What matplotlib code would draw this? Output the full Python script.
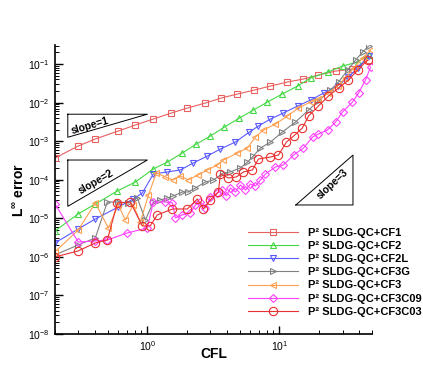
import numpy as np
import matplotlib
matplotlib.use("Agg")
import matplotlib.pyplot as plt
from matplotlib.ticker import LogLocator, NullFormatter

plt.rcParams['font.family'] = ['Liberation Sans', 'DejaVu Sans']
plt.rcParams['mathtext.fontset'] = 'custom'
plt.rcParams['mathtext.rm'] = 'Liberation Sans'
plt.rcParams['mathtext.bf'] = 'Liberation Sans:bold'
plt.rcParams['mathtext.it'] = 'Liberation Sans:italic'

# --- data ---
cfl_cf1 = [0.2, 0.3, 0.404, 0.603, 0.811, 1.11, 1.52, 2.01, 2.75, 3.64, 4.81, 6.47, 8.55,
           11.5, 15.2, 19.7, 26.6, 35.7, 47.2]
err_cf1 = [3.65e-4, 7.48e-4, 1.14e-3, 1.83e-3, 2.62e-3, 3.75e-3, 5.37e-3, 7.23e-3, 9.75e-3,
           1.32e-2, 1.67e-2, 2.12e-2, 2.69e-2, 3.42e-2, 4.09e-2, 5.19e-2, 6.58e-2, 7.42e-2, 0.127]

cfl_cf2 = [0.2, 0.3, 0.404, 0.593, 0.811, 1.11, 1.42, 1.84, 2.35, 3.0, 3.83, 4.98, 6.35, 8.11,
           10.5, 13.7, 17.2, 23.1, 30.0, 39.0, 47.2]
err_cf2 = [4.68e-6, 1.30e-5, 2.35e-5, 5.10e-5, 8.72e-5, 1.90e-4, 2.87e-4, 4.93e-4, 8.43e-4,
           1.36e-3, 2.32e-3, 3.98e-3, 6.41e-3, 1.035e-2, 1.67e-2, 2.69e-2, 4.34e-2, 6.2e-2,
           8.87e-2, 0.113, 0.171]

cfl_cf2l = [0.2, 0.3, 0.404, 0.603, 0.783, 0.917, 1.11, 1.42, 1.78, 2.23, 2.85, 3.57, 4.64,
            5.92, 6.93, 8.55, 10.7, 13.7, 17.2, 21.6, 27.5, 33.3, 39.0, 47.2]
err_cf2l = [2.29e-6, 5.28e-6, 9.58e-6, 1.96e-5, 3.16e-5, 4.53e-5, 1.41e-4, 1.59e-4, 1.79e-4,
            2.72e-4, 4.12e-4, 6.25e-4, 9.49e-4, 1.72e-3, 2.47e-3, 3.75e-3, 5.37e-3, 8.15e-3,
            1.167e-2, 1.77e-2, 2.69e-2, 4.6e-2, 7.88e-2, 0.161]

cfl_cf3g = [0.2, 0.3, 0.404, 0.498, 0.603, 0.718, 0.84, 0.966, 1.11, 1.25, 1.42, 1.57, 1.84,
            2.04, 2.31, 2.75, 3.16, 3.77, 4.25, 5.07, 5.72, 6.35, 7.18, 8.55, 10.5, 13.2,
            16.6, 19.7, 24.3, 28.0, 32.8, 37.7, 42.6, 47.2]
err_cf3g = [1.12e-6, 2.03e-6, 3.08e-6, 2.64e-5, 2.64e-5, 2.49e-5, 3.36e-5, 9.02e-6, 2.64e-5,
            2.98e-5, 3.36e-5, 3.79e-5, 4.80e-5, 4.80e-5, 6.1e-5, 8.72e-5, 9.83e-5, 1.5e-4,
            1.59e-4, 2.02e-4, 2.87e-4, 4.12e-4, 6.64e-4, 9.49e-4, 1.72e-3, 3.13e-3, 6.41e-3,
            1.10e-2, 2.12e-2, 3.42e-2, 6.99e-2, 0.127, 0.205, 0.29]

cfl_cf3 = [0.2, 0.3, 0.404, 0.507, 0.603, 0.681, 0.783, 0.885, 1.02, 1.17, 1.37, 1.57, 1.78,
           2.04, 2.43, 2.85, 3.39, 3.77, 4.81, 5.72, 6.58, 7.56, 9.33, 11.5, 13.9, 17.2, 19.7,
           23.5, 27.5, 31.6, 36.4, 42.6, 48.9]
err_cf3 = [1.34e-6, 4.97e-6, 2.49e-5, 5.6e-6, 2.21e-5, 9.02e-6, 2.21e-5, 8.0e-6, 4.02e-5,
           1.5e-4, 1.18e-4, 9.83e-5, 1.25e-4, 9.83e-5, 1.33e-4, 1.79e-4, 2.41e-4, 3.24e-4,
           4.93e-4, 6.64e-4, 1.28e-3, 1.94e-3, 2.78e-3, 4.48e-3, 7.23e-3, 1.035e-2, 1.24e-2,
           1.77e-2, 2.69e-2, 4.34e-2, 7.88e-2, 0.143, 0.231]

cfl_cf3c09 = [0.2, 0.3, 0.404, 0.498, 0.705, 1.0, 1.11, 1.37, 1.55, 1.63, 1.84, 2.12, 2.31,
              2.52, 2.75, 3.0, 3.39, 3.70, 3.97, 4.25, 4.64, 5.07, 5.53, 6.03, 6.58, 7.18,
              7.83, 9.33, 10.7, 12.8, 15.2, 17.8, 19.7, 23.1, 26.6, 30.0, 35.7, 39.7, 44.8, 48.9]
err_cf3c09 = [2.35e-5, 2.42e-6, 2.57e-6, 2.73e-6, 4.15e-6, 5.6e-6, 2.64e-5, 2.64e-5, 2.49e-5,
              1.02e-5, 1.22e-5, 1.38e-5, 2.21e-5, 2.64e-5, 1.85e-5, 3.57e-5, 4.53e-5, 5.41e-5,
              3.79e-5, 6.1e-5, 4.8e-5, 7.29e-5, 5.41e-5, 7.74e-5, 6.87e-5, 9.83e-5, 1.41e-4,
              2.14e-4, 2.41e-4, 4.37e-4, 6.64e-4, 1.28e-3, 1.53e-3, 1.94e-3, 3.13e-3, 5.69e-3,
              1.035e-2, 1.77e-2, 3.85e-2, 8.36e-2]

cfl_cf3c03 = [0.2, 0.3, 0.404, 0.498, 0.593, 0.743, 0.917, 1.05, 1.19, 1.55, 2.01, 2.39, 2.66,
              3.0, 3.45, 3.57, 4.11, 4.72, 5.34, 6.24, 6.93, 8.55, 9.83, 11.3, 12.8, 14.9, 16.6,
              19.7, 23.5, 28.0, 33.3, 39.0, 46.4]
err_cf3c03 = [9.93e-7, 1.42e-6, 2.29e-6, 2.73e-6, 2.49e-5, 2.64e-5, 6.31e-6, 6.31e-6, 1.22e-5,
              1.74e-5, 1.74e-5, 3.16e-5, 1.74e-5, 2.98e-5, 4.8e-5, 1.41e-4, 1.11e-4, 1.18e-4,
              1.59e-4, 1.79e-4, 3.44e-4, 3.88e-4, 4.37e-4, 9.49e-4, 1.36e-3, 2.19e-3, 4.48e-3,
              8.15e-3, 1.48e-2, 2.39e-2, 3.85e-2, 6.99e-2, 0.127]

labels = ["P² SLDG-QC+CF1", "P² SLDG-QC+CF2", "P² SLDG-QC+CF2L", "P² SLDG-QC+CF3G",
          "P² SLDG-QC+CF3", "P² SLDG-QC+CF3C09", "P² SLDG-QC+CF3C03"]

x_ticks = [1, 10]
y_ticks = [1e-8, 1e-7, 1e-6, 1e-5, 1e-4, 1e-3, 1e-2, 1e-1]

# slope triangles (x, y corners) and their text
tri1_x = [0.25, 1.0, 0.25, 0.25]
tri1_y = [5.0e-3, 5.0e-3, 1.26e-3, 5.0e-3]
tri2_x = [0.25, 1.0, 0.25, 0.25]
tri2_y = [3.24e-4, 3.24e-4, 2.04e-5, 3.24e-4]
tri3_x = [13.3, 36.0, 36.0, 13.3]
tri3_y = [2.21e-5, 2.21e-5, 4.35e-4, 2.21e-5]

fig = plt.figure(figsize=(4.23, 3.76), dpi=100)
ax = fig.add_axes([0.130, 0.112, 0.749, 0.768])

styles = [
    (cfl_cf1, err_cf1, '#e86060', 's', 4.2),
    (cfl_cf2, err_cf2, '#44d844', '^', 4.8),
    (cfl_cf2l, err_cf2l, '#5a5aff', 'v', 4.8),
    (cfl_cf3g, err_cf3g, '#808080', '>', 4.8),
    (cfl_cf3, err_cf3, '#ffa050', '<', 4.8),
    (cfl_cf3c09, err_cf3c09, '#ff40ff', 'D', 3.6),
    (cfl_cf3c03, err_cf3c03, '#e83030', 'o', 6.0),
]
for (x, y, c, m, ms), lab in zip(styles, labels):
    ax.plot(x, y, color=c, lw=0.8, marker=m, ms=ms, mfc='none', mec=c, mew=0.8, label=lab)

for tx, ty in [(tri1_x, tri1_y), (tri2_x, tri2_y), (tri3_x, tri3_y)]:
    ax.plot(tx, ty, color='black', lw=0.7)

ax.text(0.37, 2.45e-3, 'slope=1', rotation=16, ha='center', va='center',
        fontsize=7.5, fontweight='bold')
ax.text(0.41, 8.6e-5, 'slope=2', rotation=30, ha='center', va='center',
        fontsize=7.5, fontweight='bold')
ax.text(25.0, 7.5e-5, 'slope=3', rotation=43, ha='center', va='center',
        fontsize=7.5, fontweight='bold')

ax.set_xscale('log')
ax.set_yscale('log')
ax.set_xlim(0.2, 50)
ax.set_ylim(1e-8, 0.31)

ax.spines['top'].set_visible(False)
ax.spines['right'].set_visible(False)
ax.spines['left'].set_linewidth(1.2)
ax.spines['bottom'].set_linewidth(1.2)

ax.set_xticks(x_ticks)
ax.set_yticks(y_ticks)
ax.yaxis.set_minor_locator(LogLocator(base=10, subs=np.arange(2, 10), numticks=100))
ax.yaxis.set_minor_formatter(NullFormatter())
ax.xaxis.set_minor_locator(LogLocator(base=10, subs=np.arange(2, 10), numticks=100))
ax.xaxis.set_minor_formatter(NullFormatter())
ax.tick_params(which='major', direction='in', length=6, width=1.0, labelsize=7.5, pad=4)
ax.tick_params(which='minor', direction='in', length=3, width=0.7)

ax.set_xlabel('CFL', fontsize=10, fontweight='bold')
ax.set_ylabel(r'L$^{\mathbf{\infty}}$ error', fontsize=10, fontweight='bold')
ax.xaxis.set_label_coords(0.5, -0.045)
ax.yaxis.set_label_coords(-0.088, 0.5)

ax.legend(loc='upper left', bbox_to_anchor=(248 / 423, 1 - 228 / 376),
          bbox_transform=fig.transFigure, frameon=False,
          prop={'weight': 'bold', 'size': 8}, handlelength=4.5, handletextpad=0.9,
          labelspacing=0.28, borderpad=0, borderaxespad=0)

fig.savefig('out.png', dpi=100)
